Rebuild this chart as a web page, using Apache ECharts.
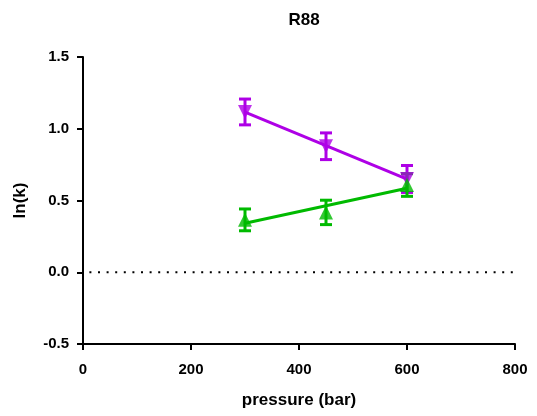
<!DOCTYPE html>
<html><head><meta charset="utf-8">
<script src="https://cdn.jsdelivr.net/npm/echarts@6/dist/echarts.min.js"></script>
<style>html,body{margin:0;padding:0;background:#fff}#c{width:537px;height:416px}</style>
</head><body><div id="c"></div>
<script>
var pressures = [300, 450, 600];
var purpleMean = [1.117, 0.878, 0.650];
var purpleErr = [0.09, 0.093, 0.094];
var greenMean = [0.365, 0.417, 0.608];
var greenErr = [0.076, 0.085, 0.079];
var xTicks = [0, 200, 400, 600, 800];
var yTicks = [-0.5, 0.0, 0.5, 1.0, 1.5];

var PURPLE = '#AE00E6', GREEN = '#00BA00';

function fit(xs, ys) {
  var n = xs.length, mx = 0, my = 0;
  for (var i = 0; i < n; i++) { mx += xs[i]; my += ys[i]; }
  mx /= n; my /= n;
  var sxy = 0, sxx = 0;
  for (var i = 0; i < n; i++) { sxy += (xs[i]-mx)*(ys[i]-my); sxx += (xs[i]-mx)*(xs[i]-mx); }
  var b = sxy / sxx, a = my - b * mx;
  var x0 = xs[0], x1 = xs[n-1];
  return [[x0, a + b*x0], [x1, a + b*x1]];
}
function errData(m, e) { return pressures.map(function (p, i) { return [p, m[i] - e[i], m[i] + e[i]]; }); }
function errSeries(m, e, color) {
  return {
    type: 'custom', data: errData(m, e), z: 3,
    renderItem: function (params, api) {
      var x = api.value(0);
      var lo = api.coord([x, api.value(1)]), hi = api.coord([x, api.value(2)]);
      var w = 6;
      var st = { stroke: color, lineWidth: 3, fill: null };
      return { type: 'group', children: [
        { type: 'line', shape: { x1: lo[0], y1: lo[1], x2: hi[0], y2: hi[1] }, style: st },
        { type: 'line', shape: { x1: lo[0]-w, y1: lo[1], x2: lo[0]+w, y2: lo[1] }, style: st },
        { type: 'line', shape: { x1: hi[0]-w, y1: hi[1], x2: hi[0]+w, y2: hi[1] }, style: st }
      ]};
    }
  };
}
var font = 'Liberation Sans, Arial, sans-serif';
var chart = echarts.init(document.getElementById('c'));
chart.setOption({
  animation: false,
  title: { text: 'R88', left: 299, textAlign: 'center', top: 7,
    textStyle: { fontFamily: font, fontWeight: 'bold', fontSize: 17, color: '#000' } },
  grid: { left: 83, right: 22, top: 57, bottom: 72 },
  xAxis: { type: 'value', min: xTicks[0], max: xTicks[xTicks.length-1], interval: 200,
    name: 'pressure (bar)', nameLocation: 'middle', nameGap: 48,
    nameTextStyle: { fontFamily: font, fontWeight: 'bold', fontSize: 17, color: '#000' },
    axisLine: { show: true, onZero: false, lineStyle: { color: '#000', width: 2 } },
    axisTick: { show: true, length: 6, lineStyle: { color: '#000', width: 2 } },
    axisLabel: { fontFamily: font, fontWeight: 'bold', fontSize: 15, color: '#000', margin: 18 },
    splitLine: { show: false } },
  yAxis: { type: 'value', min: yTicks[0], max: yTicks[yTicks.length-1], interval: 0.5,
    name: 'ln(k)', nameLocation: 'middle', nameGap: 54, nameRotate: 90,
    nameTextStyle: { fontFamily: font, fontWeight: 'bold', fontSize: 17, color: '#000' },
    axisLine: { show: true, onZero: false, lineStyle: { color: '#000', width: 2 } },
    axisTick: { show: true, length: 6, lineStyle: { color: '#000', width: 2 } },
    axisLabel: { fontFamily: font, fontWeight: 'bold', fontSize: 15, color: '#000', margin: 14,
      formatter: function (v) { return v.toFixed(1); } },
    splitLine: { show: false } },
  series: [
    { type: 'line', data: [[xTicks[0], 0], [xTicks[xTicks.length-1], 0]], symbol: 'none', z: 1,
      lineStyle: { color: '#000', width: 2, type: [2, 6.6], dashOffset: 2.2 } },
    { type: 'line', data: fit(pressures, purpleMean), symbol: 'none', z: 2,
      lineStyle: { color: PURPLE, width: 3 } },
    { type: 'line', data: fit(pressures, greenMean), symbol: 'none', z: 2,
      lineStyle: { color: GREEN, width: 3 } },
    errSeries(purpleMean, purpleErr, PURPLE),
    errSeries(greenMean, greenErr, GREEN),
    { type: 'scatter', data: pressures.map(function (p, i) { return [p, purpleMean[i]]; }),
      symbol: 'triangle', symbolRotate: 180, symbolSize: 14, z: 4, itemStyle: { color: PURPLE } },
    { type: 'scatter', data: pressures.map(function (p, i) { return [p, greenMean[i]]; }),
      symbol: 'triangle', symbolSize: 14, z: 4, itemStyle: { color: GREEN } }
  ]
});
</script></body></html>
